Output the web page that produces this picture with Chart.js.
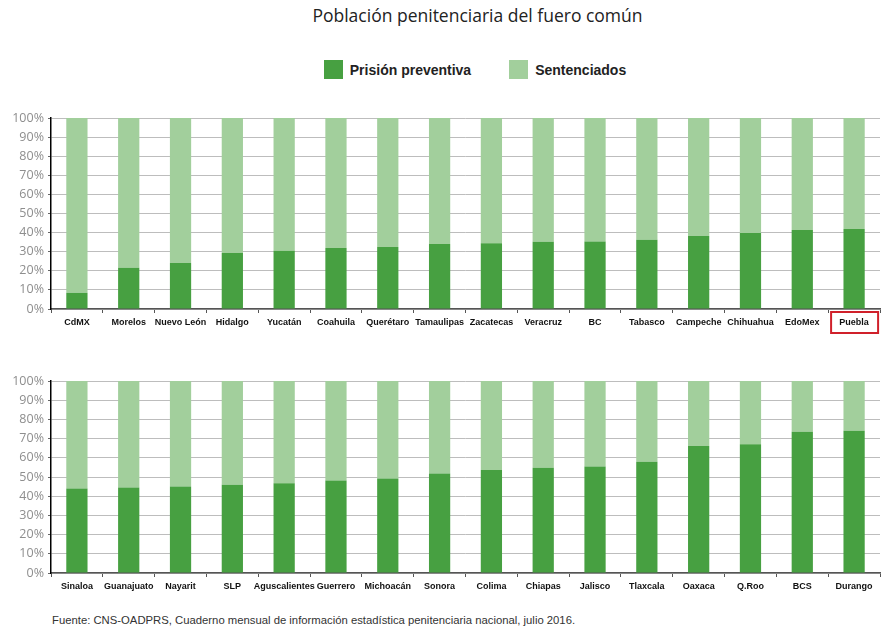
<!DOCTYPE html>
<html>
<head>
<meta charset="utf-8">
<script src="https://cdn.jsdelivr.net/npm/chart.js@4/dist/chart.umd.min.js"></script>
<style>
  body { margin: 0; width: 890px; height: 640px; background: #fff; position: relative; overflow: hidden; }
  #title { position: absolute; top: 3px; left: 0; width: 955px; text-align: center;
           font: 17.5px "Open Sans", sans-serif; color: #222; }
  #legend { position: absolute; top: 60px; left: 0; width: 950px; display: flex; justify-content: center;
            font: bold 14px "Liberation Sans", sans-serif; color: #222; }
  #legend span { display: inline-flex; align-items: center; margin: 0 19px; }
  #legend i { display: inline-block; width: 19px; height: 19px; margin-right: 7px; }
  #source { position: absolute; top: 614px; left: 52px;
            font: 11.3px "Liberation Sans", sans-serif; color: #333; }
  .box { position: absolute; left: 0; width: 890px; }
</style>
</head>
<body>
<div id="title">Población penitenciaria del fuero común</div>
<div id="legend">
  <span><i style="background:#47a041"></i>Prisión preventiva</span>
  <span><i style="background:#a2cf9c"></i>Sentenciados</span>
</div>
<div class="box" style="top:105px;height:234px"><canvas id="chart1"></canvas></div>
<div class="box" style="top:368px;height:235px"><canvas id="chart2"></canvas></div>
<div id="source">Fuente: CNS-OADPRS, Cuaderno mensual de información estadística penitenciaria nacional, julio 2016.</div>
<script>
// Estados, primera fila
var estados1 = ['CdMX', 'Morelos', 'Nuevo León', 'Hidalgo', 'Yucatán', 'Coahuila', 'Querétaro', 'Tamaulipas',
                'Zacatecas', 'Veracruz', 'BC', 'Tabasco', 'Campeche', 'Chihuahua', 'EdoMex', 'Puebla'];
var preventiva1 = [8.5, 21.6, 24.1, 29.3, 30.5, 31.9, 32.5, 34.0, 34.4, 35.2, 35.3, 36.3, 38.2, 39.8, 41.4, 41.9];

// Estados, segunda fila
var estados2 = ['Sinaloa', 'Guanajuato', 'Nayarit', 'SLP', 'Aguscalientes', 'Guerrero', 'Michoacán', 'Sonora',
                'Colima', 'Chiapas', 'Jalisco', 'Tlaxcala', 'Oaxaca', 'Q.Roo', 'BCS', 'Durango'];
var preventiva2 = [44.0, 44.5, 45.0, 45.9, 46.8, 48.2, 49.2, 51.8, 53.7, 54.8, 55.5, 57.9, 66.1, 67.0, 73.6, 74.1];

var resaltado = 'Puebla';

function sentenciados(prev) {
    return prev.map(function (v) { return Math.round((100 - v) * 10) / 10; });
}

// red frame round the highlighted category label
var boxPlugin = {
    id: 'labelBox',
    afterDraw: function (chart) {
        var x = chart.scales.x;
        var i = chart.data.labels.indexOf(resaltado);
        if (i < 0) return;
        var cx = x.getPixelForValue(i);
        var ctx = chart.ctx;
        ctx.save();
        ctx.strokeStyle = '#d0202a';
        ctx.lineWidth = 2;
        ctx.strokeRect(cx - 23, x.top + 3, 47, 21);
        ctx.restore();
    }
};

function makeChart(id, labels, prev) {
    var ctx = document.getElementById(id).getContext('2d');
    return new Chart(ctx, {
        type: 'bar',
        data: {
            labels: labels,
            datasets: [
                { label: 'Prisión preventiva', data: prev, backgroundColor: '#47a041' },
                { label: 'Sentenciados', data: sentenciados(prev), backgroundColor: '#a2cf9c' }
            ]
        },
        options: {
            responsive: true,
            maintainAspectRatio: false,
            animation: false,
            layout: { padding: { top: 13, right: 10, left: 0, bottom: 0 } },
            plugins: { legend: { display: false }, tooltip: { enabled: false } },
            datasets: { bar: { categoryPercentage: 1, barPercentage: 0.41 } },
            scales: {
                x: {
                    stacked: true,
                    afterFit: function (s) { s.height = 30; },
                    grid: { offset: true, drawOnChartArea: false, tickLength: 4, color: '#555', lineWidth: 1 },
                    border: { color: '#555', width: 1.5 },
                    ticks: {
                        color: '#111', maxRotation: 0, autoSkip: false, padding: 4,
                        font: { family: '"Liberation Sans", sans-serif', size: 9, weight: 'bold' }
                    }
                },
                y: {
                    stacked: true,
                    min: 0, max: 100,
                    afterFit: function (s) { s.width = 51; },
                    grid: {
                        color: '#bdbdbd', lineWidth: 1, tickLength: 3, tickColor: '#666',
                        tickBorderDash: [], borderDash: [2, 2]
                    },
                    border: { color: '#000', width: 1.5, dash: [] },
                    ticks: {
                        stepSize: 10, color: '#8e8e8e', padding: 4,
                        font: { family: '"Open Sans", sans-serif', size: 12.5 },
                        callback: function (v) { return v + '%'; }
                    }
                }
            }
        },
        plugins: [boxPlugin]
    });
}

makeChart('chart1', estados1, preventiva1);
makeChart('chart2', estados2, preventiva2);
</script>
</body>
</html>
